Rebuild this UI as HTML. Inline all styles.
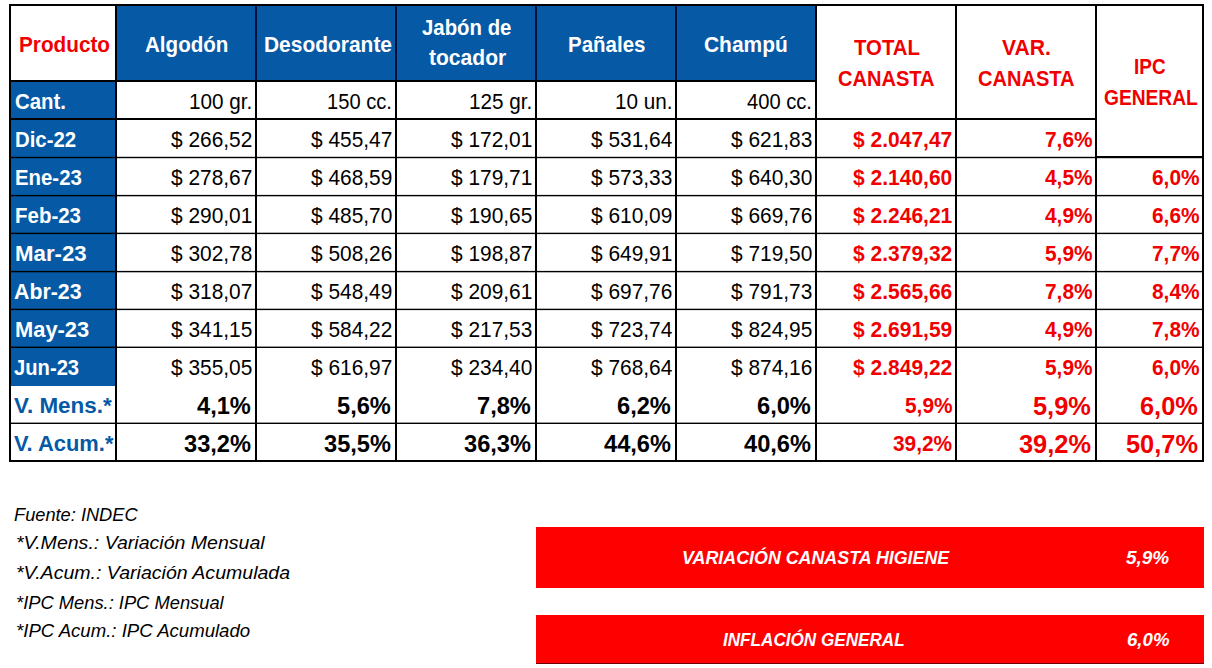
<!DOCTYPE html>
<html><head><meta charset="utf-8"><style>
html,body{margin:0;padding:0;background:#fff;width:1212px;height:668px;overflow:hidden;position:relative}
body>div{position:absolute}
.t{white-space:nowrap;font-family:"Liberation Sans",sans-serif}
</style></head><body>
<div style="left:116px;top:5px;width:700px;height:75px;background:#0659a5"></div>
<div style="left:10px;top:81px;width:106px;height:305px;background:#0659a5"></div>
<div style="left:10px;top:156px;width:1193px;height:1px;background:rgba(0,0,0,0.20)"></div>
<div style="left:10px;top:157px;width:1193px;height:1px;background:rgba(0,0,0,1.00)"></div>
<div style="left:10px;top:158px;width:1193px;height:1px;background:rgba(0,0,0,0.20)"></div>
<div style="left:10px;top:194px;width:1193px;height:1px;background:rgba(0,0,0,0.10)"></div>
<div style="left:10px;top:195px;width:1193px;height:1px;background:rgba(0,0,0,1.00)"></div>
<div style="left:10px;top:196px;width:1193px;height:1px;background:rgba(0,0,0,0.30)"></div>
<div style="left:10px;top:232px;width:1193px;height:1px;background:rgba(0,0,0,0.30)"></div>
<div style="left:10px;top:233px;width:1193px;height:1px;background:rgba(0,0,0,1.00)"></div>
<div style="left:10px;top:234px;width:1193px;height:1px;background:rgba(0,0,0,0.10)"></div>
<div style="left:10px;top:270px;width:1193px;height:1px;background:rgba(0,0,0,0.10)"></div>
<div style="left:10px;top:271px;width:1193px;height:1px;background:rgba(0,0,0,1.00)"></div>
<div style="left:10px;top:272px;width:1193px;height:1px;background:rgba(0,0,0,0.30)"></div>
<div style="left:10px;top:308px;width:1193px;height:1px;background:rgba(0,0,0,0.30)"></div>
<div style="left:10px;top:309px;width:1193px;height:1px;background:rgba(0,0,0,1.00)"></div>
<div style="left:10px;top:310px;width:1193px;height:1px;background:rgba(0,0,0,0.10)"></div>
<div style="left:10px;top:346px;width:1193px;height:1px;background:rgba(0,0,0,0.40)"></div>
<div style="left:10px;top:347px;width:1193px;height:1px;background:rgba(0,0,0,1.00)"></div>
<div style="left:10px;top:422px;width:1193px;height:1px;background:rgba(0,0,0,0.40)"></div>
<div style="left:10px;top:423px;width:1193px;height:1px;background:rgba(0,0,0,1.00)"></div>
<div style="left:10px;top:80px;width:806px;height:1px;background:rgba(0,0,0,1.00)"></div>
<div style="left:10px;top:81px;width:806px;height:1px;background:rgba(0,0,0,1.00)"></div>
<div style="left:10px;top:118px;width:1086px;height:1px;background:rgba(0,0,0,1.00)"></div>
<div style="left:10px;top:119px;width:1086px;height:1px;background:rgba(0,0,0,1.00)"></div>
<div style="left:1096px;top:156px;width:107px;height:1px;background:rgba(0,0,0,1.00)"></div>
<div style="left:1096px;top:157px;width:107px;height:1px;background:rgba(0,0,0,1.00)"></div>
<div style="left:115px;top:5px;width:1px;height:456px;background:rgba(0,0,0,1.00)"></div>
<div style="left:116px;top:5px;width:1px;height:456px;background:rgba(0,0,0,1.00)"></div>
<div style="left:255px;top:5px;width:1px;height:75px;background:rgba(0,8,45,0.90)"></div>
<div style="left:256px;top:5px;width:1px;height:75px;background:rgba(0,8,45,0.90)"></div>
<div style="left:255px;top:80px;width:1px;height:381px;background:rgba(0,0,0,1.00)"></div>
<div style="left:256px;top:80px;width:1px;height:381px;background:rgba(0,0,0,1.00)"></div>
<div style="left:395px;top:5px;width:1px;height:75px;background:rgba(0,8,45,0.90)"></div>
<div style="left:396px;top:5px;width:1px;height:75px;background:rgba(0,8,45,0.90)"></div>
<div style="left:395px;top:80px;width:1px;height:381px;background:rgba(0,0,0,1.00)"></div>
<div style="left:396px;top:80px;width:1px;height:381px;background:rgba(0,0,0,1.00)"></div>
<div style="left:535px;top:5px;width:1px;height:75px;background:rgba(0,8,45,0.90)"></div>
<div style="left:536px;top:5px;width:1px;height:75px;background:rgba(0,8,45,0.90)"></div>
<div style="left:535px;top:80px;width:1px;height:381px;background:rgba(0,0,0,1.00)"></div>
<div style="left:536px;top:80px;width:1px;height:381px;background:rgba(0,0,0,1.00)"></div>
<div style="left:675px;top:5px;width:1px;height:75px;background:rgba(0,8,45,0.90)"></div>
<div style="left:676px;top:5px;width:1px;height:75px;background:rgba(0,8,45,0.90)"></div>
<div style="left:675px;top:80px;width:1px;height:381px;background:rgba(0,0,0,1.00)"></div>
<div style="left:676px;top:80px;width:1px;height:381px;background:rgba(0,0,0,1.00)"></div>
<div style="left:815px;top:5px;width:1px;height:456px;background:rgba(0,0,0,1.00)"></div>
<div style="left:816px;top:5px;width:1px;height:456px;background:rgba(0,0,0,1.00)"></div>
<div style="left:955px;top:5px;width:1px;height:456px;background:rgba(0,0,0,1.00)"></div>
<div style="left:956px;top:5px;width:1px;height:456px;background:rgba(0,0,0,1.00)"></div>
<div style="left:1095px;top:5px;width:1px;height:456px;background:rgba(0,0,0,1.00)"></div>
<div style="left:1096px;top:5px;width:1px;height:456px;background:rgba(0,0,0,1.00)"></div>
<div style="left:9px;top:4px;width:1195px;height:1px;background:rgba(0,0,0,1.00)"></div>
<div style="left:9px;top:5px;width:1195px;height:1px;background:rgba(0,0,0,1.00)"></div>
<div style="left:9px;top:460px;width:1195px;height:1px;background:rgba(0,0,0,1.00)"></div>
<div style="left:9px;top:461px;width:1195px;height:1px;background:rgba(0,0,0,1.00)"></div>
<div style="left:9px;top:4px;width:1px;height:458px;background:rgba(0,0,0,1.00)"></div>
<div style="left:10px;top:4px;width:1px;height:458px;background:rgba(0,0,0,1.00)"></div>
<div style="left:1202px;top:4px;width:1px;height:458px;background:rgba(0,0,0,1.00)"></div>
<div style="left:1203px;top:4px;width:1px;height:458px;background:rgba(0,0,0,1.00)"></div>
<div class="t" style="left:18.50px;top:35px;font-size:21.5px;line-height:21.5px;font-weight:700;font-style:normal;color:#f00000;transform:scaleX(0.9644);transform-origin:0 0;">Producto</div>
<div class="t" style="left:144.50px;top:35px;font-size:21.5px;line-height:21.5px;font-weight:700;font-style:normal;color:#fff;transform:scaleX(0.9568);transform-origin:0 0;">Algodón</div>
<div class="t" style="left:263.50px;top:35px;font-size:21.5px;line-height:21.5px;font-weight:700;font-style:normal;color:#fff;transform:scaleX(0.9741);transform-origin:0 0;">Desodorante</div>
<div class="t" style="left:421.80px;top:18px;font-size:21.5px;line-height:21.5px;font-weight:700;font-style:normal;color:#fff;transform:scaleX(0.9472);transform-origin:0 0;">Jabón de</div>
<div class="t" style="left:428.70px;top:48px;font-size:21.5px;line-height:21.5px;font-weight:700;font-style:normal;color:#fff;transform:scaleX(0.9792);transform-origin:0 0;">tocador</div>
<div class="t" style="left:568.30px;top:35px;font-size:21.5px;line-height:21.5px;font-weight:700;font-style:normal;color:#fff;transform:scaleX(0.9524);transform-origin:0 0;">Pañales</div>
<div class="t" style="left:704.10px;top:35px;font-size:21.5px;line-height:21.5px;font-weight:700;font-style:normal;color:#fff;transform:scaleX(0.9733);transform-origin:0 0;">Champú</div>
<div class="t" style="left:853.60px;top:38px;font-size:21.5px;line-height:21.5px;font-weight:700;font-style:normal;color:#f00000;transform:scaleX(0.9460);transform-origin:0 0;">TOTAL</div>
<div class="t" style="left:838.30px;top:69px;font-size:21.5px;line-height:21.5px;font-weight:700;font-style:normal;color:#f00000;transform:scaleX(0.9324);transform-origin:0 0;">CANASTA</div>
<div class="t" style="left:1002.20px;top:38px;font-size:21.5px;line-height:21.5px;font-weight:700;font-style:normal;color:#f00000;transform:scaleX(0.9825);transform-origin:0 0;">VAR.</div>
<div class="t" style="left:978.30px;top:69px;font-size:21.5px;line-height:21.5px;font-weight:700;font-style:normal;color:#f00000;transform:scaleX(0.9324);transform-origin:0 0;">CANASTA</div>
<div class="t" style="left:1134.40px;top:57px;font-size:21.5px;line-height:21.5px;font-weight:700;font-style:normal;color:#f00000;transform:scaleX(0.8817);transform-origin:0 0;">IPC</div>
<div class="t" style="left:1103.60px;top:88px;font-size:21.5px;line-height:21.5px;font-weight:700;font-style:normal;color:#f00000;transform:scaleX(0.8924);transform-origin:0 0;">GENERAL</div>
<div class="t" style="left:14.70px;top:92px;font-size:21.5px;line-height:21.5px;font-weight:700;font-style:normal;color:#fff;transform:scaleX(0.9488);transform-origin:0 0;">Cant.</div>
<div class="t" style="left:188.95px;top:92px;font-size:21.5px;line-height:21.5px;font-weight:400;font-style:normal;color:#000;transform:scaleX(0.9620);transform-origin:0 0;">100 gr.</div>
<div class="t" style="left:327.25px;top:92px;font-size:21.5px;line-height:21.5px;font-weight:400;font-style:normal;color:#000;transform:scaleX(0.9370);transform-origin:0 0;">150 cc.</div>
<div class="t" style="left:468.95px;top:92px;font-size:21.5px;line-height:21.5px;font-weight:400;font-style:normal;color:#000;transform:scaleX(0.9620);transform-origin:0 0;">125 gr.</div>
<div class="t" style="left:614.70px;top:92px;font-size:21.5px;line-height:21.5px;font-weight:400;font-style:normal;color:#000;transform:scaleX(0.9620);transform-origin:0 0;">10 un.</div>
<div class="t" style="left:747.25px;top:92px;font-size:21.5px;line-height:21.5px;font-weight:400;font-style:normal;color:#000;transform:scaleX(0.9370);transform-origin:0 0;">400 cc.</div>
<div class="t" style="left:15.10px;top:130px;font-size:21.5px;line-height:21.5px;font-weight:700;font-style:normal;color:#fff;transform:scaleX(0.9470);transform-origin:0 0;">Dic-22</div>
<div class="t" style="left:171.04px;top:130px;font-size:21.5px;line-height:21.5px;font-weight:400;font-style:normal;color:#000;transform:scaleX(0.9720);transform-origin:0 0;">$ 266,52</div>
<div class="t" style="left:311.04px;top:130px;font-size:21.5px;line-height:21.5px;font-weight:400;font-style:normal;color:#000;transform:scaleX(0.9720);transform-origin:0 0;">$ 455,47</div>
<div class="t" style="left:451.04px;top:130px;font-size:21.5px;line-height:21.5px;font-weight:400;font-style:normal;color:#000;transform:scaleX(0.9720);transform-origin:0 0;">$ 172,01</div>
<div class="t" style="left:591.04px;top:130px;font-size:21.5px;line-height:21.5px;font-weight:400;font-style:normal;color:#000;transform:scaleX(0.9720);transform-origin:0 0;">$ 531,64</div>
<div class="t" style="left:731.04px;top:130px;font-size:21.5px;line-height:21.5px;font-weight:400;font-style:normal;color:#000;transform:scaleX(0.9720);transform-origin:0 0;">$ 621,83</div>
<div class="t" style="left:853.11px;top:130px;font-size:21.5px;line-height:21.5px;font-weight:700;font-style:normal;color:#f00000;transform:scaleX(0.9770);transform-origin:0 0;">$ 2.047,47</div>
<div class="t" style="left:1044.67px;top:130px;font-size:21.5px;line-height:21.5px;font-weight:700;font-style:normal;color:#f00000;transform:scaleX(0.9700);transform-origin:0 0;">7,6%</div>
<div class="t" style="left:14.90px;top:168px;font-size:21.5px;line-height:21.5px;font-weight:700;font-style:normal;color:#fff;transform:scaleX(0.9475);transform-origin:0 0;">Ene-23</div>
<div class="t" style="left:171.04px;top:168px;font-size:21.5px;line-height:21.5px;font-weight:400;font-style:normal;color:#000;transform:scaleX(0.9720);transform-origin:0 0;">$ 278,67</div>
<div class="t" style="left:311.04px;top:168px;font-size:21.5px;line-height:21.5px;font-weight:400;font-style:normal;color:#000;transform:scaleX(0.9720);transform-origin:0 0;">$ 468,59</div>
<div class="t" style="left:451.04px;top:168px;font-size:21.5px;line-height:21.5px;font-weight:400;font-style:normal;color:#000;transform:scaleX(0.9720);transform-origin:0 0;">$ 179,71</div>
<div class="t" style="left:591.04px;top:168px;font-size:21.5px;line-height:21.5px;font-weight:400;font-style:normal;color:#000;transform:scaleX(0.9720);transform-origin:0 0;">$ 573,33</div>
<div class="t" style="left:731.04px;top:168px;font-size:21.5px;line-height:21.5px;font-weight:400;font-style:normal;color:#000;transform:scaleX(0.9720);transform-origin:0 0;">$ 640,30</div>
<div class="t" style="left:853.11px;top:168px;font-size:21.5px;line-height:21.5px;font-weight:700;font-style:normal;color:#f00000;transform:scaleX(0.9770);transform-origin:0 0;">$ 2.140,60</div>
<div class="t" style="left:1044.67px;top:168px;font-size:21.5px;line-height:21.5px;font-weight:700;font-style:normal;color:#f00000;transform:scaleX(0.9700);transform-origin:0 0;">4,5%</div>
<div class="t" style="left:1151.97px;top:168px;font-size:21.5px;line-height:21.5px;font-weight:700;font-style:normal;color:#f00000;transform:scaleX(0.9700);transform-origin:0 0;">6,0%</div>
<div class="t" style="left:14.90px;top:206px;font-size:21.5px;line-height:21.5px;font-weight:700;font-style:normal;color:#fff;transform:scaleX(0.9525);transform-origin:0 0;">Feb-23</div>
<div class="t" style="left:171.04px;top:206px;font-size:21.5px;line-height:21.5px;font-weight:400;font-style:normal;color:#000;transform:scaleX(0.9720);transform-origin:0 0;">$ 290,01</div>
<div class="t" style="left:311.04px;top:206px;font-size:21.5px;line-height:21.5px;font-weight:400;font-style:normal;color:#000;transform:scaleX(0.9720);transform-origin:0 0;">$ 485,70</div>
<div class="t" style="left:451.04px;top:206px;font-size:21.5px;line-height:21.5px;font-weight:400;font-style:normal;color:#000;transform:scaleX(0.9720);transform-origin:0 0;">$ 190,65</div>
<div class="t" style="left:591.04px;top:206px;font-size:21.5px;line-height:21.5px;font-weight:400;font-style:normal;color:#000;transform:scaleX(0.9720);transform-origin:0 0;">$ 610,09</div>
<div class="t" style="left:731.04px;top:206px;font-size:21.5px;line-height:21.5px;font-weight:400;font-style:normal;color:#000;transform:scaleX(0.9720);transform-origin:0 0;">$ 669,76</div>
<div class="t" style="left:853.11px;top:206px;font-size:21.5px;line-height:21.5px;font-weight:700;font-style:normal;color:#f00000;transform:scaleX(0.9770);transform-origin:0 0;">$ 2.246,21</div>
<div class="t" style="left:1044.67px;top:206px;font-size:21.5px;line-height:21.5px;font-weight:700;font-style:normal;color:#f00000;transform:scaleX(0.9700);transform-origin:0 0;">4,9%</div>
<div class="t" style="left:1151.97px;top:206px;font-size:21.5px;line-height:21.5px;font-weight:700;font-style:normal;color:#f00000;transform:scaleX(0.9700);transform-origin:0 0;">6,6%</div>
<div class="t" style="left:14.90px;top:244px;font-size:21.5px;line-height:21.5px;font-weight:700;font-style:normal;color:#fff;transform:scaleX(1.0344);transform-origin:0 0;">Mar-23</div>
<div class="t" style="left:171.04px;top:244px;font-size:21.5px;line-height:21.5px;font-weight:400;font-style:normal;color:#000;transform:scaleX(0.9720);transform-origin:0 0;">$ 302,78</div>
<div class="t" style="left:311.04px;top:244px;font-size:21.5px;line-height:21.5px;font-weight:400;font-style:normal;color:#000;transform:scaleX(0.9720);transform-origin:0 0;">$ 508,26</div>
<div class="t" style="left:451.04px;top:244px;font-size:21.5px;line-height:21.5px;font-weight:400;font-style:normal;color:#000;transform:scaleX(0.9720);transform-origin:0 0;">$ 198,87</div>
<div class="t" style="left:591.04px;top:244px;font-size:21.5px;line-height:21.5px;font-weight:400;font-style:normal;color:#000;transform:scaleX(0.9720);transform-origin:0 0;">$ 649,91</div>
<div class="t" style="left:731.04px;top:244px;font-size:21.5px;line-height:21.5px;font-weight:400;font-style:normal;color:#000;transform:scaleX(0.9720);transform-origin:0 0;">$ 719,50</div>
<div class="t" style="left:853.11px;top:244px;font-size:21.5px;line-height:21.5px;font-weight:700;font-style:normal;color:#f00000;transform:scaleX(0.9770);transform-origin:0 0;">$ 2.379,32</div>
<div class="t" style="left:1044.67px;top:244px;font-size:21.5px;line-height:21.5px;font-weight:700;font-style:normal;color:#f00000;transform:scaleX(0.9700);transform-origin:0 0;">5,9%</div>
<div class="t" style="left:1151.97px;top:244px;font-size:21.5px;line-height:21.5px;font-weight:700;font-style:normal;color:#f00000;transform:scaleX(0.9700);transform-origin:0 0;">7,7%</div>
<div class="t" style="left:14.10px;top:282px;font-size:21.5px;line-height:21.5px;font-weight:700;font-style:normal;color:#fff;transform:scaleX(0.9925);transform-origin:0 0;">Abr-23</div>
<div class="t" style="left:171.04px;top:282px;font-size:21.5px;line-height:21.5px;font-weight:400;font-style:normal;color:#000;transform:scaleX(0.9720);transform-origin:0 0;">$ 318,07</div>
<div class="t" style="left:311.04px;top:282px;font-size:21.5px;line-height:21.5px;font-weight:400;font-style:normal;color:#000;transform:scaleX(0.9720);transform-origin:0 0;">$ 548,49</div>
<div class="t" style="left:451.04px;top:282px;font-size:21.5px;line-height:21.5px;font-weight:400;font-style:normal;color:#000;transform:scaleX(0.9720);transform-origin:0 0;">$ 209,61</div>
<div class="t" style="left:591.04px;top:282px;font-size:21.5px;line-height:21.5px;font-weight:400;font-style:normal;color:#000;transform:scaleX(0.9720);transform-origin:0 0;">$ 697,76</div>
<div class="t" style="left:731.04px;top:282px;font-size:21.5px;line-height:21.5px;font-weight:400;font-style:normal;color:#000;transform:scaleX(0.9720);transform-origin:0 0;">$ 791,73</div>
<div class="t" style="left:853.11px;top:282px;font-size:21.5px;line-height:21.5px;font-weight:700;font-style:normal;color:#f00000;transform:scaleX(0.9770);transform-origin:0 0;">$ 2.565,66</div>
<div class="t" style="left:1044.67px;top:282px;font-size:21.5px;line-height:21.5px;font-weight:700;font-style:normal;color:#f00000;transform:scaleX(0.9700);transform-origin:0 0;">7,8%</div>
<div class="t" style="left:1151.97px;top:282px;font-size:21.5px;line-height:21.5px;font-weight:700;font-style:normal;color:#f00000;transform:scaleX(0.9700);transform-origin:0 0;">8,4%</div>
<div class="t" style="left:14.90px;top:320px;font-size:21.5px;line-height:21.5px;font-weight:700;font-style:normal;color:#fff;transform:scaleX(1.0177);transform-origin:0 0;">May-23</div>
<div class="t" style="left:171.04px;top:320px;font-size:21.5px;line-height:21.5px;font-weight:400;font-style:normal;color:#000;transform:scaleX(0.9720);transform-origin:0 0;">$ 341,15</div>
<div class="t" style="left:311.04px;top:320px;font-size:21.5px;line-height:21.5px;font-weight:400;font-style:normal;color:#000;transform:scaleX(0.9720);transform-origin:0 0;">$ 584,22</div>
<div class="t" style="left:451.04px;top:320px;font-size:21.5px;line-height:21.5px;font-weight:400;font-style:normal;color:#000;transform:scaleX(0.9720);transform-origin:0 0;">$ 217,53</div>
<div class="t" style="left:591.04px;top:320px;font-size:21.5px;line-height:21.5px;font-weight:400;font-style:normal;color:#000;transform:scaleX(0.9720);transform-origin:0 0;">$ 723,74</div>
<div class="t" style="left:731.04px;top:320px;font-size:21.5px;line-height:21.5px;font-weight:400;font-style:normal;color:#000;transform:scaleX(0.9720);transform-origin:0 0;">$ 824,95</div>
<div class="t" style="left:853.11px;top:320px;font-size:21.5px;line-height:21.5px;font-weight:700;font-style:normal;color:#f00000;transform:scaleX(0.9770);transform-origin:0 0;">$ 2.691,59</div>
<div class="t" style="left:1044.67px;top:320px;font-size:21.5px;line-height:21.5px;font-weight:700;font-style:normal;color:#f00000;transform:scaleX(0.9700);transform-origin:0 0;">4,9%</div>
<div class="t" style="left:1151.97px;top:320px;font-size:21.5px;line-height:21.5px;font-weight:700;font-style:normal;color:#f00000;transform:scaleX(0.9700);transform-origin:0 0;">7,8%</div>
<div class="t" style="left:13.80px;top:358px;font-size:21.5px;line-height:21.5px;font-weight:700;font-style:normal;color:#fff;transform:scaleX(0.9395);transform-origin:0 0;">Jun-23</div>
<div class="t" style="left:171.04px;top:358px;font-size:21.5px;line-height:21.5px;font-weight:400;font-style:normal;color:#000;transform:scaleX(0.9720);transform-origin:0 0;">$ 355,05</div>
<div class="t" style="left:311.04px;top:358px;font-size:21.5px;line-height:21.5px;font-weight:400;font-style:normal;color:#000;transform:scaleX(0.9720);transform-origin:0 0;">$ 616,97</div>
<div class="t" style="left:451.04px;top:358px;font-size:21.5px;line-height:21.5px;font-weight:400;font-style:normal;color:#000;transform:scaleX(0.9720);transform-origin:0 0;">$ 234,40</div>
<div class="t" style="left:591.04px;top:358px;font-size:21.5px;line-height:21.5px;font-weight:400;font-style:normal;color:#000;transform:scaleX(0.9720);transform-origin:0 0;">$ 768,64</div>
<div class="t" style="left:731.04px;top:358px;font-size:21.5px;line-height:21.5px;font-weight:400;font-style:normal;color:#000;transform:scaleX(0.9720);transform-origin:0 0;">$ 874,16</div>
<div class="t" style="left:853.11px;top:358px;font-size:21.5px;line-height:21.5px;font-weight:700;font-style:normal;color:#f00000;transform:scaleX(0.9770);transform-origin:0 0;">$ 2.849,22</div>
<div class="t" style="left:1044.67px;top:358px;font-size:21.5px;line-height:21.5px;font-weight:700;font-style:normal;color:#f00000;transform:scaleX(0.9700);transform-origin:0 0;">5,9%</div>
<div class="t" style="left:1151.97px;top:358px;font-size:21.5px;line-height:21.5px;font-weight:700;font-style:normal;color:#f00000;transform:scaleX(0.9700);transform-origin:0 0;">6,0%</div>
<div class="t" style="left:14.30px;top:396px;font-size:21.5px;line-height:21.5px;font-weight:700;font-style:normal;color:#0659a5;transform:scaleX(1.0437);transform-origin:0 0;">V. Mens.*</div>
<div class="t" style="left:197.32px;top:394px;font-size:24.5px;line-height:24.5px;font-weight:700;font-style:normal;color:#000;transform:scaleX(0.9650);transform-origin:0 0;">4,1%</div>
<div class="t" style="left:337.32px;top:394px;font-size:24.5px;line-height:24.5px;font-weight:700;font-style:normal;color:#000;transform:scaleX(0.9650);transform-origin:0 0;">5,6%</div>
<div class="t" style="left:477.32px;top:394px;font-size:24.5px;line-height:24.5px;font-weight:700;font-style:normal;color:#000;transform:scaleX(0.9650);transform-origin:0 0;">7,8%</div>
<div class="t" style="left:617.32px;top:394px;font-size:24.5px;line-height:24.5px;font-weight:700;font-style:normal;color:#000;transform:scaleX(0.9650);transform-origin:0 0;">6,2%</div>
<div class="t" style="left:757.32px;top:394px;font-size:24.5px;line-height:24.5px;font-weight:700;font-style:normal;color:#000;transform:scaleX(0.9650);transform-origin:0 0;">6,0%</div>
<div class="t" style="left:904.87px;top:396px;font-size:21.5px;line-height:21.5px;font-weight:700;font-style:normal;color:#f00000;transform:scaleX(0.9700);transform-origin:0 0;">5,9%</div>
<div class="t" style="left:1033.37px;top:394px;font-size:25.0px;line-height:25.0px;font-weight:700;font-style:normal;color:#f00000;transform:scaleX(1.0150);transform-origin:0 0;">5,9%</div>
<div class="t" style="left:1140.47px;top:394px;font-size:25.0px;line-height:25.0px;font-weight:700;font-style:normal;color:#f00000;transform:scaleX(1.0150);transform-origin:0 0;">6,0%</div>
<div class="t" style="left:14.30px;top:434px;font-size:21.5px;line-height:21.5px;font-weight:700;font-style:normal;color:#0659a5;transform:scaleX(1.0186);transform-origin:0 0;">V. Acum.*</div>
<div class="t" style="left:184.17px;top:432px;font-size:24.5px;line-height:24.5px;font-weight:700;font-style:normal;color:#000;transform:scaleX(0.9650);transform-origin:0 0;">33,2%</div>
<div class="t" style="left:324.17px;top:432px;font-size:24.5px;line-height:24.5px;font-weight:700;font-style:normal;color:#000;transform:scaleX(0.9650);transform-origin:0 0;">35,5%</div>
<div class="t" style="left:464.17px;top:432px;font-size:24.5px;line-height:24.5px;font-weight:700;font-style:normal;color:#000;transform:scaleX(0.9650);transform-origin:0 0;">36,3%</div>
<div class="t" style="left:604.17px;top:432px;font-size:24.5px;line-height:24.5px;font-weight:700;font-style:normal;color:#000;transform:scaleX(0.9650);transform-origin:0 0;">44,6%</div>
<div class="t" style="left:744.17px;top:432px;font-size:24.5px;line-height:24.5px;font-weight:700;font-style:normal;color:#000;transform:scaleX(0.9650);transform-origin:0 0;">40,6%</div>
<div class="t" style="left:893.28px;top:434px;font-size:21.5px;line-height:21.5px;font-weight:700;font-style:normal;color:#f00000;transform:scaleX(0.9700);transform-origin:0 0;">39,2%</div>
<div class="t" style="left:1019.26px;top:432px;font-size:25.0px;line-height:25.0px;font-weight:700;font-style:normal;color:#f00000;transform:scaleX(1.0150);transform-origin:0 0;">39,2%</div>
<div class="t" style="left:1126.36px;top:432px;font-size:25.0px;line-height:25.0px;font-weight:700;font-style:normal;color:#f00000;transform:scaleX(1.0150);transform-origin:0 0;">50,7%</div>
<div class="t" style="left:14.40px;top:505px;font-size:19px;line-height:19px;font-weight:400;font-style:italic;color:#000;transform:scaleX(0.9594);transform-origin:0 0;">Fuente: INDEC</div>
<div class="t" style="left:16.40px;top:533px;font-size:19px;line-height:19px;font-weight:400;font-style:italic;color:#000;transform:scaleX(1.0282);transform-origin:0 0;">*V.Mens.: Variación Mensual</div>
<div class="t" style="left:16.40px;top:563px;font-size:19px;line-height:19px;font-weight:400;font-style:italic;color:#000;transform:scaleX(1.0286);transform-origin:0 0;">*V.Acum.: Variación Acumulada</div>
<div class="t" style="left:16.40px;top:593px;font-size:19px;line-height:19px;font-weight:400;font-style:italic;color:#000;transform:scaleX(0.9641);transform-origin:0 0;">*IPC Mens.: IPC Mensual</div>
<div class="t" style="left:16.40px;top:621px;font-size:19px;line-height:19px;font-weight:400;font-style:italic;color:#000;transform:scaleX(0.9781);transform-origin:0 0;">*IPC Acum.: IPC Acumulado</div>
<div style="left:536px;top:527px;width:668px;height:61px;background:#ff0000"></div>
<div style="left:536px;top:615px;width:668px;height:48px;background:#ff0000"></div>
<div style="left:536px;top:663px;width:668px;height:1px;background:#700000"></div>
<div class="t" style="left:681.50px;top:549px;font-size:18px;line-height:18px;font-weight:700;font-style:italic;color:#fff;transform:scaleX(0.9910);transform-origin:0 0;">VARIACIÓN CANASTA HIGIENE</div>
<div class="t" style="left:1126.30px;top:549px;font-size:18px;line-height:18px;font-weight:700;font-style:italic;color:#fff;transform:scaleX(1.0531);transform-origin:0 0;">5,9%</div>
<div class="t" style="left:723.30px;top:631px;font-size:18px;line-height:18px;font-weight:700;font-style:italic;color:#fff;transform:scaleX(0.9508);transform-origin:0 0;">INFLACIÓN GENERAL</div>
<div class="t" style="left:1127.00px;top:631px;font-size:18px;line-height:18px;font-weight:700;font-style:italic;color:#fff;transform:scaleX(1.0360);transform-origin:0 0;">6,0%</div>
</body></html>
